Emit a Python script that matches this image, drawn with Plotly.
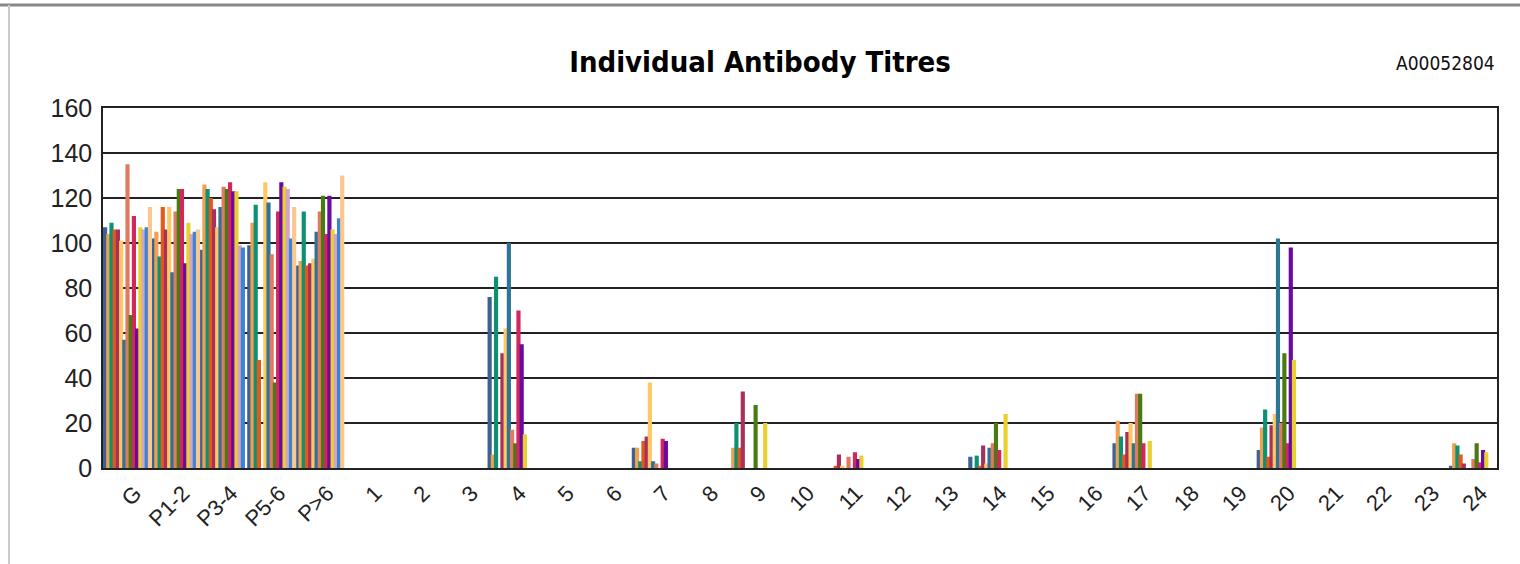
import plotly.graph_objects as go

categories = ["G", "P1-2", "P3-4", "P5-6", "P>6"] + [str(i) for i in range(1, 25)]

def row(g, p12, p34, p56, p6, extra):
    vals = [g, p12, p34, p56, p6] + [0] * 24
    for k, v in extra.items():
        vals[4 + k] = v
    return vals

series_names = ["S1", "S2", "S3", "S4", "S5", "S6", "S7", "S8",
                "S9", "S10", "S11", "S12", "S13", "S14", "S15"]

s1 = row(107, 102, 97, 99, 90, {4: 76, 7: 9, 14: 5, 17: 11, 20: 8, 24: 1})
s2 = row(104, 105, 126, 109, 92, {4: 6, 7: 9, 9: 9, 17: 21, 20: 18, 24: 11})
s3 = row(109, 94, 124, 117, 114, {4: 85, 7: 3, 9: 20, 14: 5.5, 17: 14, 20: 26, 24: 10})
s4 = row(106, 116, 120, 48, 90, {7: 12, 9: 9, 11: 1, 14: 1, 17: 6, 20: 5, 24: 6})
s5 = row(106, 106, 115, None, 91, {4: 51, 7: 14, 9: 34, 11: 6, 14: 10, 17: 16, 20: 19, 24: 2})
s6 = row(101, 116, 107, 127, 93, {4: 62, 7: 38, 11: 1, 14: 2, 17: 20, 20: 24})
s7 = row(57, 87, 116, 118, 105, {4: 100, 7: 3, 14: 9, 17: 11, 20: 102})
s8 = row(135, 114, 125, 95, 114, {4: 17, 7: 2, 11: 5, 14: 11, 17: 33, 20: 20, 24: 4})
s9 = row(68, 124, 124, 38, 121, {4: 11, 9: 28, 14: 20, 17: 33, 20: 51, 24: 11})
s10 = row(112, 124, 127, 114, 104, {4: 70, 7: 13, 11: 7, 14: 8, 17: 11, 20: 11, 24: 2.5})
s11 = row(62, 91, 123, 127, 121, {4: 55, 7: 12, 11: 4, 20: 98, 24: 8})
s12 = row(107, 109, 123, 125, 106, {4: 15, 9: 20, 11: 5.5, 14: 24, 17: 12, 20: 48, 24: 7})
s13 = row(106, 104, 99, 124, 104, {})
s14 = row(107, 105, 98, 102, 111, {})
s15 = row(116, 106, None, 116, 130, {})

series_values = [s1, s2, s3, s4, s5, s6, s7, s8, s9, s10, s11, s12, s13, s14, s15]

colors = ["#3c6192", "#f0a052", "#0c9272", "#e05a1e", "#a8305a", "#ffc864",
          "#2e7494", "#e07a62", "#4a7a12", "#d0285c", "#6a0aa0", "#e8d030",
          "#d4a4c8", "#3a84d4", "#f8c890"]

y_ticks = [0, 20, 40, 60, 80, 100, 120, 140, 160]

n = len(series_values)
slot = 1.0 / n
fig = go.Figure()
for i, (name, vals, col) in enumerate(zip(series_names, series_values, colors)):
    fig.add_trace(go.Bar(x=categories, y=vals, name=name, marker_color=col,
                         marker_line_width=0, showlegend=False,
                         offset=-0.5 + i * slot, width=slot * 1.3))

W, H = 1520, 564
L, R, T, B = 103, 23, 108, 96
pw, ph = W - L - R, H - T - B

def px_x(px):
    return (px - L) / pw

def px_y(py):
    return (H - B - py) / ph

fig.update_layout(
    width=W, height=H,
    margin=dict(l=L, r=R, t=T, b=B, pad=0),
    paper_bgcolor="white", plot_bgcolor="white",
    barmode="overlay",
    font=dict(family="Liberation Sans, Arial, sans-serif", color="#111"),
    title=dict(text="<b>Individual Antibody Titres</b>", x=0.5, xanchor="center",
               y=1 - 62 / H, yanchor="middle",
               font=dict(family="DejaVu Sans Condensed, Liberation Sans Narrow, Arial Narrow, sans-serif",
                         size=29, color="#000")),
    xaxis=dict(type="category", range=[-0.5, len(categories) - 0.5], automargin=False,
               tickangle=-45, tickfont=dict(size=22, color="#222"),
               showline=True, linecolor="#222", linewidth=1.5, mirror=True,
               showgrid=False, ticks="", ticklabelshift=8, ticklabelstandoff=2),
    yaxis=dict(range=[0, 160], tickvals=y_ticks, tickfont=dict(size=25, color="#222"),
               automargin=False,
               showline=True, linecolor="#222", linewidth=1.5, mirror=True,
               showgrid=True, gridcolor="#222", gridwidth=1.5, zeroline=False,
               ticks="", ticklabelstandoff=4),
    annotations=[dict(text="A00052804", xref="paper", yref="paper", x=1, y=px_y(63),
                      xanchor="right", yanchor="middle", showarrow=False,
                      font=dict(family="Liberation Sans Narrow, DejaVu Sans Condensed, sans-serif",
                                size=19, color="#111"))],
    shapes=[
        dict(type="line", xref="paper", yref="paper", x0=px_x(0), x1=px_x(W),
             y0=px_y(5), y1=px_y(5), line=dict(color="#888", width=3)),
        dict(type="line", xref="paper", yref="paper", x0=px_x(9), x1=px_x(9),
             y0=px_y(5), y1=px_y(H), line=dict(color="#ccc", width=2)),
    ],
)

fig.write_html("out.html", config={"displayModeBar": False},
               post_script="document.body.style.margin='0px';document.body.style.overflow='hidden';")
